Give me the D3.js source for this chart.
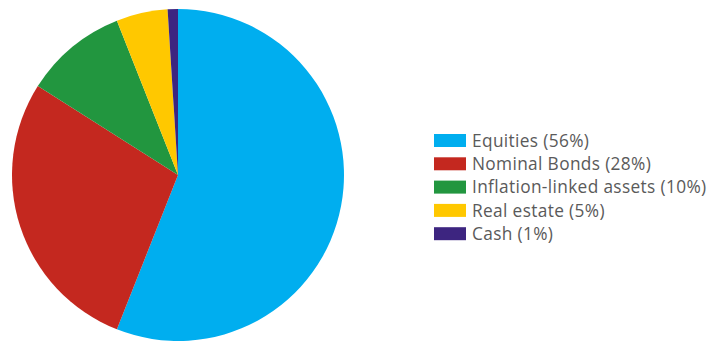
<!DOCTYPE html>
<html>
<head>
<meta charset="utf-8">
<script src="https://cdn.jsdelivr.net/npm/d3@7"></script>
<style>
  html, body { margin: 0; padding: 0; background: #fff; }
  svg { display: block; }
</style>
</head>
<body>
<svg id="chart" width="712" height="341"></svg>
<script>
// Portfolio allocation
const categories = ["Equities", "Nominal Bonds", "Inflation-linked assets", "Real estate", "Cash"];
const shares = [56, 28, 10, 5, 1];
const colors = ["#00AEEF", "#C4281F", "#22963F", "#FFC800", "#3D2580"];

const svg = d3.select("#chart");
const cx = 178, cy = 175, radius = 166;

const data = categories.map((c, i) => ({ name: c, value: shares[i], color: colors[i] }));

const pie = d3.pie().value(d => d.value).sort(null);
const arc = d3.arc().innerRadius(0).outerRadius(radius);

svg.append("g")
  .attr("transform", `translate(${cx},${cy})`)
  .selectAll("path")
  .data(pie(data))
  .join("path")
  .attr("d", arc)
  .attr("fill", d => d.data.color);

// Legend
const legend = svg.append("g").attr("transform", "translate(434,134)");
const row = legend.selectAll("g")
  .data(data)
  .join("g")
  .attr("transform", (d, i) => `translate(0,${i * 23.3})`);

row.append("rect")
  .attr("width", 32)
  .attr("height", 13)
  .attr("fill", d => d.color);

row.append("text")
  .attr("x", 38)
  .attr("y", 12.8)
  .attr("font-family", "'Open Sans', sans-serif")
  .attr("font-size", 17.3)
  .attr("letter-spacing", 0.35)
  .attr("fill", "#5a5a5a")
  .text(d => `${d.name} (${d.value}%)`);
</script>
</body>
</html>
